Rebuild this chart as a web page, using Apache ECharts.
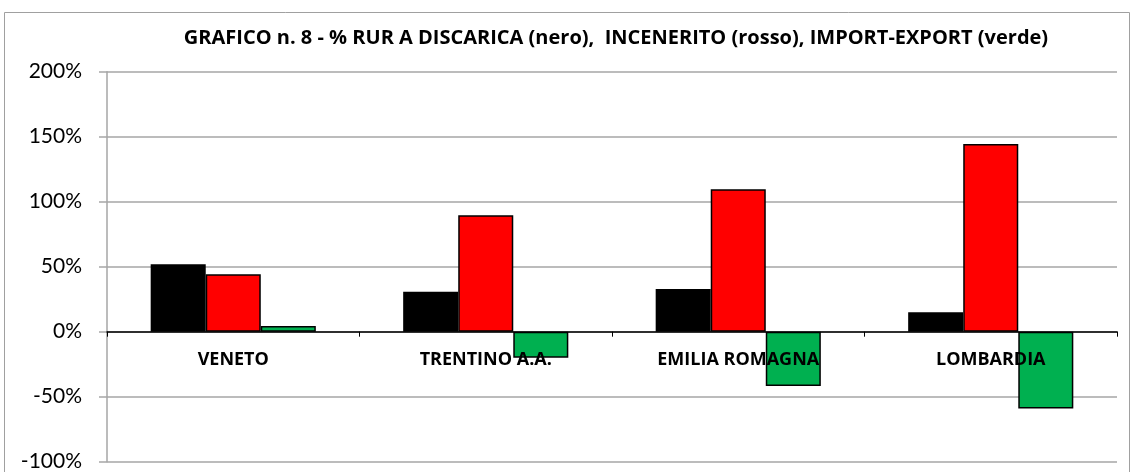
<!DOCTYPE html>
<html style="height: 100%">
<head>
    <meta charset="utf-8">
</head>
<body style="height: 100%; margin: 0; background: #fff">
    <div id="container" style="width: 1134px; height: 472px"></div>
    <script src="https://cdn.jsdelivr.net/npm/echarts@6/dist/echarts.min.js"></script>
    <script type="text/javascript">
        var regioni = ['VENETO', 'TRENTINO A.A.', 'EMILIA ROMAGNA', 'LOMBARDIA'];
        var discarica = [51.8, 30.8, 32.8, 14.9];     // nero
        var incenerito = [44.1, 89.5, 109.5, 144.4];  // rosso
        var importExport = [4.4, -20, -41.8, -59];    // verde

        var chart = echarts.init(document.getElementById('container'));

        var barStyle = function (c) {
            return { color: c, borderColor: '#000', borderWidth: 1.5 };
        };

        // asse categorie spostato sullo 0% (grid alta 390px, 300 punti => 130px sopra il fondo)
        var option = {
            backgroundColor: '#fff',
            animation: false,
            title: {
                text: 'GRAFICO n. 8 - % RUR A DISCARICA (nero),  INCENERITO (rosso), IMPORT-EXPORT (verde)',
                left: 611,
                top: 23,
                textAlign: 'center',
                textStyle: { fontFamily: 'Open Sans', fontWeight: 'bold', fontSize: 20, color: '#000' }
            },
            graphic: [{
                type: 'rect',
                shape: { x: 4.5, y: 12.5, width: 1125, height: 470 },
                style: { fill: 'none', stroke: '#a0a0a0', lineWidth: 1 },
                silent: true
            }],
            grid: { left: 107, right: 17, top: 71.7, bottom: 10.3, outerBoundsMode: 'none' },
            xAxis: {
                type: 'category',
                data: regioni,
                position: 'bottom',
                offset: -130,
                z: 5,
                axisLine: { onZero: false, lineStyle: { color: '#000', width: 1.5 } },
                axisTick: { show: true, length: 5, inside: false, lineStyle: { color: '#000' } },
                axisLabel: {
                    margin: 19,
                    fontFamily: 'Open Sans', fontWeight: 'bold', fontSize: 18, color: '#000'
                },
                splitLine: { show: false }
            },
            yAxis: {
                type: 'value',
                min: -100,
                max: 200,
                interval: 50,
                axisLine: { show: true, lineStyle: { color: '#a6a6a6', width: 1.5 } },
                axisTick: { show: true, length: 8, lineStyle: { color: '#a6a6a6', width: 1.5 } },
                axisLabel: {
                    formatter: '{value}%',
                    margin: 25,
                    fontFamily: 'Lato', fontSize: 21, color: '#000'
                },
                splitLine: { lineStyle: { color: '#a6a6a6', width: 1.5 } }
            },
            series: [{
                name: 'nero',
                type: 'bar',
                data: discarica,
                barGap: '0%',
                barCategoryGap: '34.6%',
                itemStyle: barStyle('#000000')
            }, {
                name: 'rosso',
                type: 'bar',
                data: incenerito,
                itemStyle: barStyle('#ff0000')
            }, {
                name: 'verde',
                type: 'bar',
                data: importExport,
                itemStyle: barStyle('#00b050')
            }]
        };
        chart.setOption(option);
    </script>
</body>
</html>
